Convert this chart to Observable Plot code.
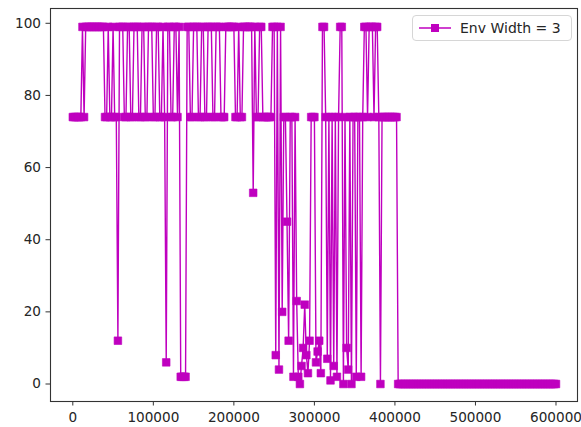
<!DOCTYPE html>
<html>
<head>
<meta charset="utf-8">
<script src="https://cdn.jsdelivr.net/npm/d3@7"></script>
<script src="https://cdn.jsdelivr.net/npm/@observablehq/plot@0.6"></script>
<style>
  html, body { margin: 0; padding: 0; background: #fff; }
  #wrap { position: relative; width: 581px; height: 427px; overflow: hidden; }
  #legend {
    position: absolute; left: 412px; top: 15px; width: 160px; height: 26px;
    border: 1px solid #d6d6d6; border-radius: 4px; background: rgba(255,255,255,0.85);
    font-family: "DejaVu Sans", sans-serif; font-size: 14px; color: #262626;
    box-sizing: border-box;
  }
  #legend svg { position: absolute; left: 4px; top: 4px; }
  #legend span { position: absolute; left: 47px; top: 4px; white-space: nowrap; }
</style>
</head>
<body>
<div id="wrap"></div>
<script>
// Evaluation interval (timesteps between logged points)
const evalInterval = 2000;

const rewards = [
  74,74,74,74,74,74,99,74,99,99,
  99,99,99,99,99,99,99,99,99,99,
  74,74,99,74,74,99,74,74,12,99,
  99,99,74,74,99,99,74,74,99,99,
  99,74,74,99,99,74,74,99,99,99,
  74,74,99,99,74,74,99,74,6,99,
  99,74,74,99,99,74,99,2,2,2,
  2,99,99,74,74,99,99,99,74,74,
  99,99,74,74,99,99,99,74,74,99,
  99,99,74,74,74,99,99,99,99,99,
  99,74,74,99,74,74,99,99,99,99,
  99,99,53,99,74,74,99,99,74,74,
  74,74,74,74,99,99,8,99,4,99,
  20,74,74,45,12,74,74,2,74,23,
  2,0,5,10,22,8,3,12,74,74,
  74,6,9,12,3,99,99,74,7,74,
  1,74,5,74,2,74,99,99,0,74,
  10,4,74,0,74,74,2,74,74,2,
  74,99,99,74,99,99,99,74,99,99,
  74,0,74,74,74,74,74,74,74,74,
  74,74,0,0,0,0,0,0,0,0,
  0,0,0,0,0,0,0,0,0,0,
  0,0,0,0,0,0,0,0,0,0,
  0,0,0,0,0,0,0,0,0,0,
  0,0,0,0,0,0,0,0,0,0,
  0,0,0,0,0,0,0,0,0,0,
  0,0,0,0,0,0,0,0,0,0,
  0,0,0,0,0,0,0,0,0,0,
  0,0,0,0,0,0,0,0,0,0,
  0,0,0,0,0,0,0,0,0,0,
  0
];

const xTicks = [0, 100000, 200000, 300000, 400000, 500000, 600000];
const yTicks = [0, 20, 40, 60, 80, 100];
const seriesLabel = "Env Width = 3";
const color = "#bf00bf";

const data = rewards.map((v, i) => ({step: i * evalInterval, value: v}));

const chart = Plot.plot({
  width: 581,
  height: 427,
  marginLeft: 50,
  marginRight: 4,
  marginTop: 8,
  marginBottom: 26,
  x: {domain: [-27700, 626700]},
  y: {domain: [-4.85, 104.1]},
  style: {fontFamily: "DejaVu Sans, sans-serif", fontSize: "13.6px", color: "#262626", background: "#fff"},
  marks: [
    Plot.axisX({ticks: xTicks, tickFormat: d => String(d), tickSize: 4.5, tickPadding: 6, label: null, stroke: "#333"}),
    Plot.axisY({ticks: yTicks, tickFormat: d => String(d), tickSize: 4.5, tickPadding: 5, label: null, stroke: "#333"}),
    Plot.lineY(data, {x: "step", y: "value", stroke: color, strokeWidth: 1.4}),
    Plot.dot(data, {x: "step", y: "value", symbol: "square", r: 4.3, fill: color, stroke: color, strokeWidth: 0.6}),
    Plot.frame({stroke: "#333", strokeWidth: 1.1})
  ]
});

const wrap = document.getElementById("wrap");
wrap.appendChild(chart);

const legend = document.createElement("div");
legend.id = "legend";
legend.innerHTML = `<svg width="36" height="16"><line x1="2" y1="8" x2="34" y2="8" stroke="${color}" stroke-width="1.5"/><rect x="14" y="4" width="8" height="8" fill="${color}"/></svg><span></span>`;
legend.querySelector("span").textContent = seriesLabel;
wrap.appendChild(legend);
</script>
</body>
</html>
